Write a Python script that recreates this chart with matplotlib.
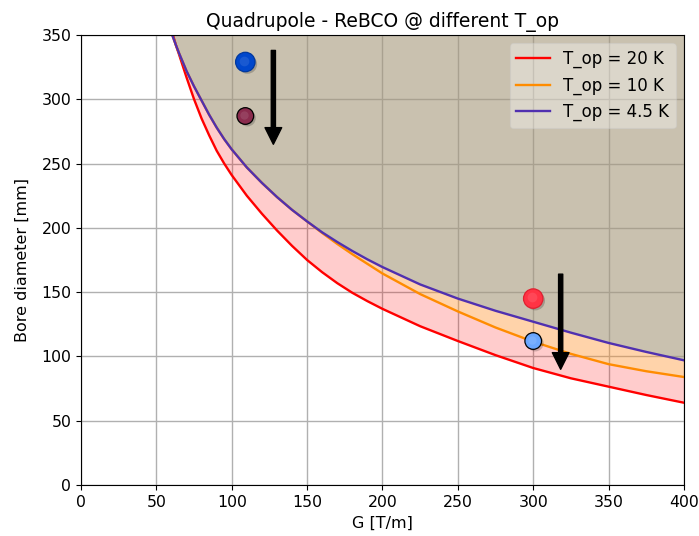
import numpy as np
import matplotlib; matplotlib.use("Agg")
import matplotlib.pyplot as plt
import matplotlib.patheffects as pe

# ── Data ──────────────────────────────────────────────────────────────────────

G_red = [61, 63, 65, 67.5, 70, 72.5, 75, 80, 85, 90, 95, 100, 110, 120, 130, 140, 150,
         160, 170, 180, 190, 200, 225, 250, 275, 300, 325, 350, 375, 400]
D_20K = [350, 342, 335, 326, 317, 308.5, 300, 285, 272, 260, 250, 241, 225, 211, 198, 186, 175,
         165.5, 157, 149.5, 143, 137, 123.5, 112, 101, 91, 83, 76.5, 70, 64]

G_pur = [60.5, 63, 65, 67.5, 70, 72.5, 75, 80, 85, 90, 95, 100, 110, 120, 130, 140, 150,
         160, 170, 180, 190, 200, 225, 250, 275, 300, 325, 350, 375, 400]
D_4K5 = [350, 342, 336, 329, 322, 316, 310, 299, 288, 278, 269, 261, 247, 235, 224, 214, 205,
         196.5, 189, 182, 175.5, 169.5, 156, 145, 135.5, 127, 118.5, 110.5, 103.5, 97]
D_10K = [350, 342, 336, 329, 322, 316, 310, 299, 288, 278, 269, 261, 247, 235, 224, 214, 205,
         196, 187.5, 179.5, 172, 164.5, 148.5, 135, 122.5, 111.5, 102, 94, 88.5, 84]

# design points (G, bore) and arrows (x, y_start, y_end)
pt_G     = [109, 109, 300, 300]
pt_D     = [329, 287, 145, 112]
pt_face  = ["#0047cc", "#8a2b4d", "#ff3344", "#6aa6ff"]
pt_edge  = ["#00389e", "black", "#e02030", "black"]
pt_size  = [14, 12, 14, 12]

arr_x  = [127.6, 318.2]
arr_y0 = [338, 164]
arr_y1 = [265, 90]

# ── Plot ──────────────────────────────────────────────────────────────────────

fig = plt.figure(figsize=(6.99, 5.36), dpi=100)
ax = fig.add_axes([0.1159, 0.0951, 0.8626, 0.8396])
ax.set_axisbelow(True)
ax.grid(True, color="#b0b0b0", lw=1.0)

G_red_a = np.array(G_red)
G_pur_a = np.array(G_pur)
red_on_pur = np.interp(G_pur_a, G_red_a, D_20K)

ax.fill_between(G_pur_a, D_4K5, 350, color="#a5987b", alpha=0.6, lw=0)
ax.fill_between(G_pur_a, D_10K, D_4K5, color="#ff8c20", alpha=0.38, lw=0)
ax.fill_between(G_pur_a, red_on_pur, D_10K, color="red", alpha=0.2, lw=0)

ax.plot(G_red, D_20K, color="red", lw=1.7, label="T_op = 20 K")
ax.plot(G_pur, D_10K, color="darkorange", lw=1.7, label="T_op = 10 K")
ax.plot(G_pur, D_4K5, color="#5030b0", lw=1.7, label="T_op = 4.5 K")

shadow = [pe.SimplePatchShadow(offset=(1.5, -1.5), shadow_rgbFace="black", alpha=0.2),
          pe.Normal()]
for g, d, fc, ec, ms in zip(pt_G, pt_D, pt_face, pt_edge, pt_size):
    ax.plot(g, d, "o", ms=ms, mfc=fc, mec=ec, mew=0.9, zorder=5, path_effects=shadow)
    ax.plot(g - 0.6, d + 1.0, "o", ms=ms * 0.5, mfc="white", mec="none",
            alpha=0.1, zorder=6)

for x, y0, y1 in zip(arr_x, arr_y0, arr_y1):
    ax.annotate("", xy=(x, y1), xytext=(x, y0),
                arrowprops=dict(facecolor="black", edgecolor="black",
                                width=3, headwidth=12, headlength=12, shrink=0),
                zorder=7)

ax.set_xlim(0, 400)
ax.set_ylim(0, 350)
ax.set_xticks(range(0, 401, 50))
ax.set_yticks(range(0, 351, 50))
ax.tick_params(labelsize=11.3)
ax.set_title("Quadrupole - ReBCO @ different T_op", fontsize=13.5)
ax.set_xlabel("G [T/m]", fontsize=11.5)
ax.set_ylabel("Bore diameter [mm]", fontsize=11.5, labelpad=8)
ax.legend(loc="upper right", fontsize=12, framealpha=0.35)

fig.savefig("out.png", dpi=100)
